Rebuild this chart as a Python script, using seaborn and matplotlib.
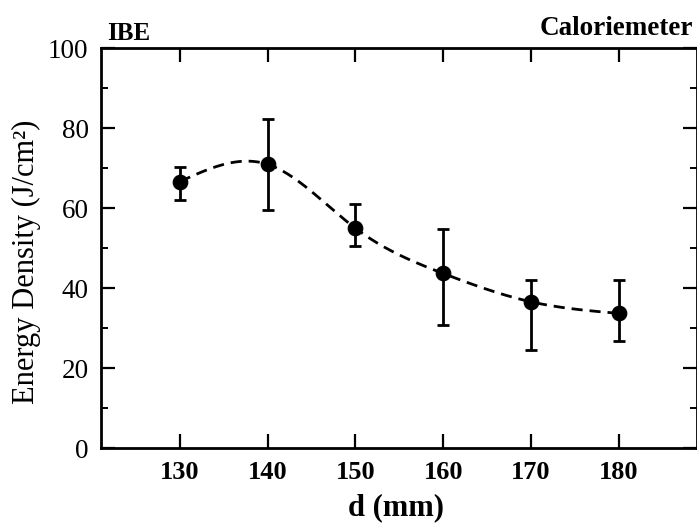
import numpy as np
import pandas as pd
import matplotlib
matplotlib.use("Agg")
import matplotlib.pyplot as plt
import seaborn as sns

# datos
distancia = [130, 140, 150, 160, 170, 180]
densidad = [66.7, 71.0, 55.0, 43.7, 36.6, 33.7]
error_sup = [70.3, 82.4, 61.0, 54.7, 42.0, 42.0]
error_inf = [62.2, 59.5, 50.5, 30.8, 24.5, 26.8]
xticks = [130, 140, 150, 160, 170, 180]
yticks = [0, 20, 40, 60, 80, 100]

df = pd.DataFrame({"d": distancia, "E": densidad})


def spline_natural(x, y, xn):
    # spline cubico natural que pasa por los puntos medidos
    x = np.asarray(x, float)
    y = np.asarray(y, float)
    n = len(x)
    h = np.diff(x)
    A = np.zeros((n, n))
    b = np.zeros(n)
    A[0, 0] = A[-1, -1] = 1
    for i in range(1, n - 1):
        A[i, i - 1] = h[i - 1]
        A[i, i] = 2 * (h[i - 1] + h[i])
        A[i, i + 1] = h[i]
        b[i] = 3 * ((y[i + 1] - y[i]) / h[i] - (y[i] - y[i - 1]) / h[i - 1])
    c = np.linalg.solve(A, b)
    out = np.empty_like(xn)
    for k, xv in enumerate(xn):
        i = min(np.searchsorted(x, xv, side="right") - 1, n - 2)
        i = max(i, 0)
        dx = xv - x[i]
        bi = (y[i + 1] - y[i]) / h[i] - h[i] * (2 * c[i] + c[i + 1]) / 3
        di = (c[i + 1] - c[i]) / (3 * h[i])
        out[k] = y[i] + bi * dx + c[i] * dx ** 2 + di * dx ** 3
    return out


x_curva = np.linspace(distancia[0], distancia[-1], 300)
y_curva = spline_natural(distancia, densidad, x_curva)

sns.set_style("ticks", {"axes.edgecolor": "black", "text.color": "black",
                        "axes.labelcolor": "black", "xtick.color": "black",
                        "ytick.color": "black"})
plt.rcParams["font.family"] = ["Liberation Serif", "DejaVu Serif"]

fig = plt.figure(figsize=(6.97, 5.23), dpi=100)
ax = fig.add_axes([0.145, 0.1434, 0.8557, 0.7639])

sns.lineplot(x=x_curva, y=y_curva, ax=ax, color="black", linewidth=2,
             linestyle=(0, (4, 2.5)), zorder=2)
ax.errorbar(distancia, densidad,
            yerr=[np.array(densidad) - np.array(error_inf),
                  np.array(error_sup) - np.array(densidad)],
            fmt="none", ecolor="black", elinewidth=2, capsize=4.5, capthick=2,
            zorder=3)
sns.scatterplot(data=df, x="d", y="E", ax=ax, color="black", s=110,
                edgecolor="black", zorder=4)

ax.set_xlim(121, 189)
ax.set_ylim(0, 100)
ax.set_xticks(xticks)
ax.set_yticks(yticks)
ax.set_yticks([10, 30, 50, 70, 90], minor=True)
ax.set_xticklabels([str(t) for t in xticks], fontsize=19, fontweight="bold")
ax.set_yticklabels([str(t) for t in yticks], fontsize=19.5)
ax.tick_params(axis="x", which="major", direction="in", length=10, width=1.6,
               top=True, pad=9)
ax.tick_params(axis="y", which="major", direction="in", length=10, width=1.6,
               right=True, pad=9)
ax.tick_params(axis="y", which="minor", direction="in", length=5, width=1.4,
               left=True, right=True)
for s in ax.spines.values():
    s.set_linewidth(2)
    s.set_visible(True)
    s.set_color("black")

ax.set_xlabel("d (mm)", fontsize=22, fontweight="bold")
ax.set_ylabel("Energy Density (J/cm²)", fontsize=22)
ax.xaxis.set_label_coords(0.495, -0.112)
ax.yaxis.set_label_coords(-0.1, 0.467)

fig.text(107 / 697, 1 - 40 / 523, "IBE", fontsize=18, fontweight="bold",
         ha="left", va="baseline")
fig.text(540 / 697, 1 - 35 / 523, "Caloriemeter", fontsize=19.5,
         fontweight="bold", ha="left", va="baseline")

fig.savefig("out.png", dpi=100)
